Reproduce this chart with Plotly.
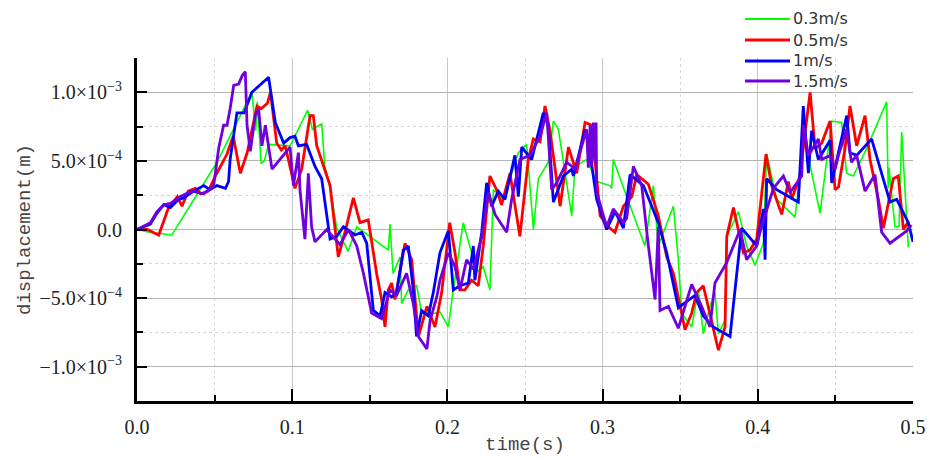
import plotly.graph_objects as go

# ---------------- data (time in s, displacement in 1e-3 m) ----------------
t_03 = [0.0, 0.008, 0.0225, 0.0365, 0.0515, 0.074, 0.0765, 0.0775, 0.080, 0.082, 0.0848, 0.0986,
        0.110, 0.113, 0.119, 0.121, 0.124, 0.1287, 0.136, 0.1416, 0.162, 0.163, 0.165, 0.1695,
        0.1705, 0.1748, 0.1802, 0.1834, 0.1920, 0.1952, 0.2006, 0.2038, 0.2102, 0.2156, 0.2178,
        0.2231, 0.2274, 0.2296, 0.2360, 0.2457, 0.2511, 0.2554, 0.2586, 0.2650, 0.2683, 0.2715,
        0.2747, 0.2801, 0.2822, 0.2897, 0.2962, 0.3047, 0.3058, 0.3069, 0.3155, 0.3273, 0.3327,
        0.3359, 0.3456, 0.3488, 0.3510, 0.3574, 0.3617, 0.3649, 0.3692, 0.3724, 0.3746, 0.3789,
        0.3800, 0.3875, 0.3928, 0.3971, 0.3982, 0.4036, 0.4057, 0.4122, 0.4240, 0.4272, 0.4293,
        0.4401, 0.4476, 0.4540, 0.4572, 0.4615, 0.4701, 0.4830, 0.4840, 0.4845, 0.4884, 0.4910,
        0.4927, 0.4970]
d_03 = [0.0, -0.02, -0.04, 0.22, 0.49, 1.0, 0.72, 0.93, 0.48, 0.50, 0.62, 0.61,
        0.87, 0.73, 0.77, 0.46, 0.33, 0.01, -0.16, 0.02, -0.15, 0.04, -0.32, -0.20,
        -0.54, -0.44, -0.41, -0.61, -0.61, -0.60, -0.71, -0.44, 0.05, -0.17, -0.32,
        -0.27, -0.44, 0.29, 0.22, 0.56, 0.62, 0.0, 0.37, 0.49, 0.79, 0.73,
        0.49, 0.10, 0.46, 0.51, 0.35, 0.32, 0.30, 0.51, 0.24, -0.12, 0.32,
        -0.12, 0.17, -0.22, -0.61, -0.71, -0.44, -0.76, -0.56, -0.46, -0.76, -0.66,
        -0.05, 0.13, -0.12, -0.24, -0.26, -0.10, 0.55, 0.22, 0.09, 0.41, 0.71,
        0.12, 0.79, 0.78, 0.41, 0.39, 0.59, 0.93, 0.30, 0.45, 0.02, 0.02,
        0.71, -0.13]

t_05 = [0.0, 0.0065, 0.014, 0.020, 0.026, 0.029, 0.033, 0.0376, 0.041, 0.046, 0.0505, 0.058,
        0.062, 0.0666, 0.071, 0.0773, 0.080, 0.084, 0.086, 0.090, 0.093, 0.0955, 0.1018, 0.1061,
        0.1115, 0.1136, 0.1158, 0.1244, 0.1297, 0.1340, 0.1394, 0.1437, 0.1490, 0.1544, 0.1576,
        0.1598, 0.1619, 0.1641, 0.1662, 0.1727, 0.1770, 0.1813, 0.1868, 0.1920, 0.1963, 0.2015,
        0.2049, 0.2081, 0.2113, 0.2156, 0.2199, 0.2231, 0.2274, 0.2317, 0.2349, 0.2403, 0.2467,
        0.2521, 0.2554, 0.2597, 0.2629, 0.2661, 0.2726, 0.2780, 0.2833, 0.2887, 0.2930, 0.2984,
        0.3037, 0.3080, 0.3134, 0.3188, 0.3220, 0.3295, 0.3359, 0.3413, 0.3456, 0.3499, 0.3531,
        0.3574, 0.3606, 0.3649, 0.3692, 0.3746, 0.3789, 0.3800, 0.3843, 0.3907, 0.3950, 0.3993,
        0.4053, 0.4089, 0.4154, 0.4197, 0.4218, 0.4272, 0.4304, 0.4337, 0.4369, 0.4412, 0.4466,
        0.4498, 0.4520, 0.4562, 0.4594, 0.4637, 0.4691, 0.4723, 0.4777, 0.4809, 0.4873, 0.4905,
        0.4938, 0.4960, 0.4992]
d_05 = [0.0, 0.0, -0.04, 0.15, 0.24, 0.17, 0.28, 0.30, 0.26, 0.28, 0.39, 0.55,
        0.68, 0.41, 0.56, 0.90, 0.88, 0.92, 1.0, 0.63, 0.58, 0.61, 0.30, 0.44,
        0.83, 0.83, 0.61, 0.32, -0.20, -0.02, 0.23, 0.05, 0.07, -0.32, -0.51,
        -0.71, -0.44, -0.39, -0.51, -0.10, -0.22, -0.78, -0.56, -0.71, -0.46, 0.05,
        -0.17, -0.44, -0.44, -0.37, -0.41, -0.12, 0.39, 0.29, 0.18, 0.41, -0.05,
        0.51, 0.66, 0.64, 0.90, 0.72, 0.17, 0.60, 0.41, 0.78, 0.76, 0.10,
        0.02, -0.02, 0.17, 0.24, 0.40, 0.33, 0.10, -0.20, -0.32, -0.56, -0.73,
        -0.61, -0.46, -0.41, -0.61, -0.88, -0.71, -0.05, 0.16, -0.17, -0.15, -0.07,
        0.55, 0.32, 0.11, 0.35, 0.22, 0.39, 0.70, 1.0, 0.59, 0.63, 0.79,
        0.29, 0.31, 0.59, 0.90, 0.61, 0.83, 0.51, 0.22, 0.01, 0.37, 0.39,
        0.0, 0.04, 0.02]

t_1 = [0.0, 0.0086, 0.0129, 0.0172, 0.0215, 0.0268, 0.030, 0.0365, 0.043, 0.047, 0.0515, 0.057,
       0.059, 0.060, 0.0644, 0.069, 0.074, 0.0848, 0.0891, 0.0945, 0.0986, 0.1018, 0.104, 0.1093,
       0.1147, 0.119, 0.1244, 0.1287, 0.133, 0.1405, 0.1448, 0.148, 0.1523, 0.1566, 0.1598,
       0.1641, 0.1673, 0.1716, 0.1748, 0.178, 0.1801, 0.1834, 0.1877, 0.1909, 0.1952, 0.2006,
       0.2038, 0.2081, 0.2135, 0.2167, 0.2177, 0.2221, 0.2253, 0.2285, 0.2328, 0.2371, 0.2435,
       0.2457, 0.2479, 0.2543, 0.2618, 0.2650, 0.2683, 0.2747, 0.2801, 0.2812, 0.2887, 0.2909,
       0.2962, 0.3026, 0.3080, 0.3134, 0.3177, 0.3263, 0.3359, 0.3413, 0.3488, 0.3595, 0.3649,
       0.3713, 0.3821, 0.3896, 0.3993, 0.4036, 0.4047, 0.4057, 0.4122, 0.4261, 0.4293, 0.4326,
       0.4347, 0.4390, 0.4466, 0.4476, 0.4573, 0.4594, 0.4637, 0.4733, 0.4852, 0.4895, 0.4970,
       0.5]
d_1 = [0.0, 0.04, 0.12, 0.18, 0.16, 0.22, 0.23, 0.28, 0.32, 0.29, 0.32, 0.30,
       0.35, 0.51, 0.85, 0.85, 1.0, 1.11, 0.78, 0.63, 0.67, 0.68, 0.61, 0.62,
       0.46, 0.37, -0.07, -0.05, 0.02, -0.04, -0.02, -0.10, -0.59, -0.63, -0.46,
       -0.49, -0.46, -0.15, -0.12, -0.44, -0.78, -0.59, -0.63, -0.46, -0.17, -0.01,
       -0.44, -0.41, -0.39, -0.12, -0.37, -0.02, 0.34, 0.17, 0.28, 0.22, 0.54,
       0.24, 0.60, 0.51, 0.85, 0.76, 0.20, 0.39, 0.44, 0.39, 0.73, 0.63,
       0.22, 0.0, 0.13, 0.01, 0.40, 0.32, 0.05, -0.17, -0.57, -0.48, -0.63,
       -0.71, -0.78, 0.01, -0.12, 0.15, -0.22, 0.37, 0.29, 0.20, 0.90, 0.41,
       0.72, 0.51, 0.65, 0.34, 0.83, 0.56, 0.54, 0.66, 0.20, 0.22, 0.05,
       -0.09]

t_15 = [0.0, 0.0086, 0.0129, 0.0172, 0.0215, 0.028, 0.0354, 0.043, 0.0494, 0.0526, 0.0558, 0.058,
        0.060, 0.0623, 0.0655, 0.0677, 0.0698, 0.0709, 0.073, 0.0762, 0.0784, 0.0805, 0.0827, 0.087,
        0.0986, 0.1008, 0.104, 0.105, 0.1082, 0.1104, 0.1125, 0.1147, 0.1222, 0.1308, 0.1362,
        0.1416, 0.1459, 0.1512, 0.1576, 0.163, 0.1673, 0.1737, 0.178, 0.1813, 0.1868, 0.1889,
        0.1932, 0.1952, 0.2006, 0.2049, 0.2081, 0.2124, 0.2167, 0.2221, 0.2264, 0.2307, 0.2382,
        0.2414, 0.2468, 0.2532, 0.2597, 0.2640, 0.2672, 0.2704, 0.2769, 0.2823, 0.2897, 0.2908,
        0.2920, 0.2930, 0.2941, 0.2952, 0.2958, 0.2962, 0.3026, 0.3069, 0.3134, 0.3155, 0.3198,
        0.3252, 0.3295, 0.3338, 0.3359, 0.3370, 0.3424, 0.3488, 0.3574, 0.3638, 0.3692, 0.3724,
        0.3800, 0.3886, 0.3928, 0.3993, 0.4014, 0.4100, 0.4165, 0.4208, 0.4283, 0.4294, 0.4326,
        0.4390, 0.4412, 0.4466, 0.4498, 0.4520, 0.4572, 0.4604, 0.4637, 0.4691, 0.4755, 0.4798,
        0.4852, 0.4959, 0.4981]
d_15 = [0.0, 0.05, 0.13, 0.18, 0.19, 0.24, 0.28, 0.26, 0.32, 0.59, 0.76, 0.76,
        0.88, 1.05, 1.06, 1.12, 1.15, 0.76, 0.57, 0.83, 0.88, 0.61, 0.76, 0.44,
        0.60, 0.32, 0.56, 0.29, -0.07, 0.41, 0.02, -0.09, 0.0, -0.11, 0.0,
        -0.12, -0.32, -0.61, -0.65, -0.44, -0.48, -0.32, -0.54, -0.78, -0.87, -0.66,
        -0.49, -0.37, -0.17, -0.27, -0.44, -0.22, -0.29, -0.05, 0.27, 0.11, -0.02,
        0.22, 0.51, 0.54, 0.68, 0.85, 0.29, 0.34, 0.49, 0.44, 0.73, 0.45,
        0.76, 0.46, 0.78, 0.50, 0.78, 0.27, 0.02, 0.15, 0.05, 0.08, 0.46,
        0.32, -0.12, -0.51, 0.02, -0.59, -0.56, -0.72, -0.40, -0.56, -0.71, -0.39,
        -0.24, 0.0, -0.22, -0.12, -0.02, 0.30, 0.39, 0.27, 0.39, 0.76, 0.54,
        0.66, 0.51, 0.54, 0.44, 0.54, 0.73, 0.49, 0.54, 0.28, 0.40, -0.02,
        -0.10, -0.01, 0.02]

series_names = ["0.3m/s", "0.5m/s", "1m/s", "1.5m/s"]
series_t = [t_03, t_05, t_1, t_15]
series_d = [d_03, d_05, d_1, d_15]
colors = ["#00FF00", "#FF0000", "#0000FF", "#7000DC"]
widths = [1.6, 2.8, 2.8, 2.8]

y_tickvals = [-1.0e-3, -5.0e-4, 0.0, 5.0e-4, 1.0e-3]
y_ticktext = ["−1.0×10<sup>−3</sup>", "−5.0×10<sup>−4</sup>", "0.0",
              "5.0×10<sup>−4</sup>", "1.0×10<sup>−3</sup>"]
x_tickvals = [0.0, 0.1, 0.2, 0.3, 0.4, 0.5]
x_ticktext = ["0.0", "0.1", "0.2", "0.3", "0.4", "0.5"]

# ---------------- figure ----------------
fig = go.Figure()
for name, t, d, c, w in zip(series_names, series_t, series_d, colors, widths):
    fig.add_trace(go.Scatter(x=t, y=[v * 1e-3 for v in d], mode="lines", name=name,
                             line=dict(color=c, width=w), showlegend=False, hoverinfo="skip"))

# plot area at 137..913 x 58..401 (page body margin removed below)
W, H = 928, 459
L, T = 137, 58
R = W - 913
B = H - 401
pw, ph = W - L - R, H - T - B

def px_to_paper(px, py):
    return (px - L) / pw, (H - B - py) / ph

# manual legend (long line samples like the reference)
shapes = []
annotations = []
leg_y = [19, 40, 61, 81]
for name, c, w, yy in zip(series_names, colors, widths, leg_y):
    x0, y0 = px_to_paper(745, yy)
    x1, _ = px_to_paper(790, yy)
    shapes.append(dict(type="line", xref="paper", yref="paper", x0=x0, x1=x1, y0=y0, y1=y0,
                       line=dict(color=c, width=w + 0.3)))
    xt, _ = px_to_paper(791, yy)
    annotations.append(dict(xref="paper", yref="paper", x=xt, y=y0, text=name, showarrow=False,
                            xanchor="left", yanchor="middle",
                            font=dict(family="DejaVu Sans", size=16, color="#333333")))

fig.update_layout(
    width=W, height=H,
    margin=dict(l=L, r=R, t=T, b=B),
    paper_bgcolor="white", plot_bgcolor="white",
    shapes=shapes, annotations=annotations,
    xaxis=dict(
        range=[0, 0.5], tickvals=x_tickvals, ticktext=x_ticktext, automargin=False,
        showline=True, linecolor="black", linewidth=3,
        ticks="inside", ticklen=12, tickwidth=2, tickcolor="black",
        showgrid=True, gridcolor="#c8c8c8", gridwidth=1,
        zeroline=False,
        minor=dict(dtick=0.05, ticks="inside", ticklen=6, tickwidth=2, tickcolor="black",
                   showgrid=True, gridcolor="#d8d8d8", griddash="dot", gridwidth=1),
        tickfont=dict(family="Liberation Serif", size=20, color="#222222"),
        ticklabelstandoff=6,
        title=dict(text="time(s)", font=dict(family="Liberation Mono", size=19, color="#444444"),
                   standoff=0),
    ),
    yaxis=dict(
        range=[-1.25e-3, 1.25e-3], tickvals=y_tickvals, ticktext=y_ticktext, automargin=False,
        showline=True, linecolor="black", linewidth=3,
        ticks="inside", ticklen=10, tickwidth=2, tickcolor="black",
        showgrid=True, gridcolor="#b4b4b4", gridwidth=1.2,
        zeroline=False,
        minor=dict(dtick=2.5e-4, ticks="inside", ticklen=6, tickwidth=2, tickcolor="black",
                   showgrid=True, gridcolor="#d8d8d8", griddash="dot", gridwidth=1),
        tickfont=dict(family="Liberation Serif", size=20, color="#222222"),
        ticklabelstandoff=8,
        title=dict(text="displacement(m)", font=dict(family="Liberation Mono", size=19, color="#444444"),
                   standoff=4),
    ),
)

fig.write_html("out.html", config={"displayModeBar": False},
               post_script="document.body.style.margin='0';document.body.style.overflow='hidden';")
